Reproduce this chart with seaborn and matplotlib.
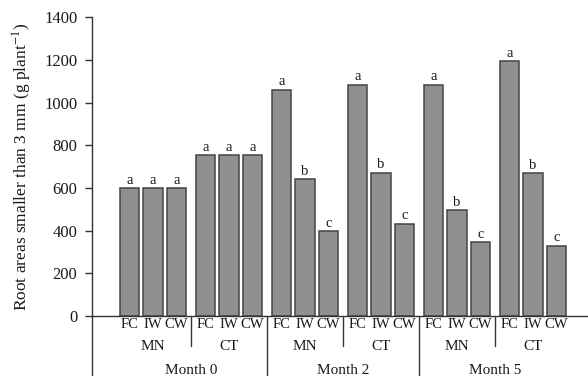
import matplotlib
matplotlib.use("Agg")
import matplotlib.pyplot as plt
import matplotlib.transforms as mtransforms
import numpy as np
import pandas as pd
import seaborn as sns

# Data: root area (< 3 mm) per plant
months = ["Month 0", "Month 2", "Month 5"]
sites = ["MN", "CT"]
treatments = ["FC", "IW", "CW"]

fc_values = [600, 755, 1060, 1085, 1085, 1195]
iw_values = [600, 755, 640, 672, 495, 668]
cw_values = [600, 755, 398, 432, 345, 329]

fc_letters = ["a", "a", "a", "a", "a", "a"]
iw_letters = ["a", "a", "b", "b", "b", "b"]
cw_letters = ["a", "a", "c", "c", "c", "c"]

y_ticks = [0, 200, 400, 600, 800, 1000, 1200, 1400]

groups = [f"{m} {s}" for m in months for s in sites]
df = pd.DataFrame({
    "group": groups * 3,
    "treatment": np.repeat(treatments, len(groups)),
    "value": fc_values + iw_values + cw_values,
})

sns.set_theme(style="white")
plt.rcParams["font.family"] = ["Liberation Serif", "DejaVu Serif"]
plt.rcParams["mathtext.fontset"] = "stix"

TXT = "#1a1a1a"

fig = plt.figure(figsize=(5.88, 3.76), dpi=100)
ax = fig.add_axes([92 / 588, 1 - 316 / 376, 1 - 92 / 588, (316 - 17.3) / 376])

sns.barplot(data=df, x="group", y="value", hue="treatment", order=groups,
            hue_order=treatments, width=0.928, gap=0.17,
            palette=["#909090"] * 3, edgecolor="#444444", linewidth=1.1,
            legend=False, ax=ax, errorbar=None)

ax.set_xlim(-0.803, 5.724)
ax.set_ylim(0, 1400)
ax.set_yticks(y_ticks)
ax.set_yticklabels([str(t) for t in y_ticks], fontsize=12, color=TXT)
ax.tick_params(axis="y", direction="out", length=5, width=1, color="#333333",
               left=True, pad=5.5)
ax.tick_params(axis="x", bottom=False, labelbottom=False)
ax.set_xlabel("")
ax.set_ylabel("Root areas smaller than 3 mm (g plant$^{-1}$)", fontsize=12.5,
              color=TXT, labelpad=7)

for side in ["top", "right"]:
    ax.spines[side].set_visible(False)
for side in ["left", "bottom"]:
    ax.spines[side].set_color("#333333")
    ax.spines[side].set_linewidth(1.0)
# left spine runs down through the category label area
ax.spines["left"].set_bounds(-340, 1400)

# significance letters above bars
for cont, letters in zip(ax.containers, [fc_letters, iw_letters, cw_letters]):
    ax.bar_label(cont, labels=letters, padding=1, fontsize=10.5, color=TXT)

# category labels below the axis
trans = mtransforms.blended_transform_factory(ax.transData, ax.transAxes)
fig.canvas.draw()
ax_h = ax.get_window_extent().height

def ypix(p):
    return -p / ax_h

for cont, name in zip(ax.containers, treatments):
    for bar in cont:
        cx = bar.get_x() + bar.get_width() / 2
        ax.text(cx, ypix(9), name, transform=trans, ha="center", va="center",
                fontsize=10.5, color=TXT)

for i, g in enumerate(groups):
    site = g.split(" ")[-1]
    ax.text(i, ypix(31), site, transform=trans, ha="center", va="center",
            fontsize=11, color=TXT)

for j, m in enumerate(months):
    center = 2 * j + 0.5
    ax.text(center, ypix(54), m, transform=trans, ha="center", va="center",
            fontsize=11, color=TXT)
    # divider between sites within a month
    ax.plot([center, center], [0, ypix(30)], transform=trans, color="#333333",
            lw=1.0, clip_on=False)
    # divider between months
    if j < len(months) - 1:
        ax.plot([center + 1, center + 1], [0, ypix(62)], transform=trans,
                color="#333333", lw=1.0, clip_on=False)

fig.savefig("out.png", dpi=100, facecolor="white")
